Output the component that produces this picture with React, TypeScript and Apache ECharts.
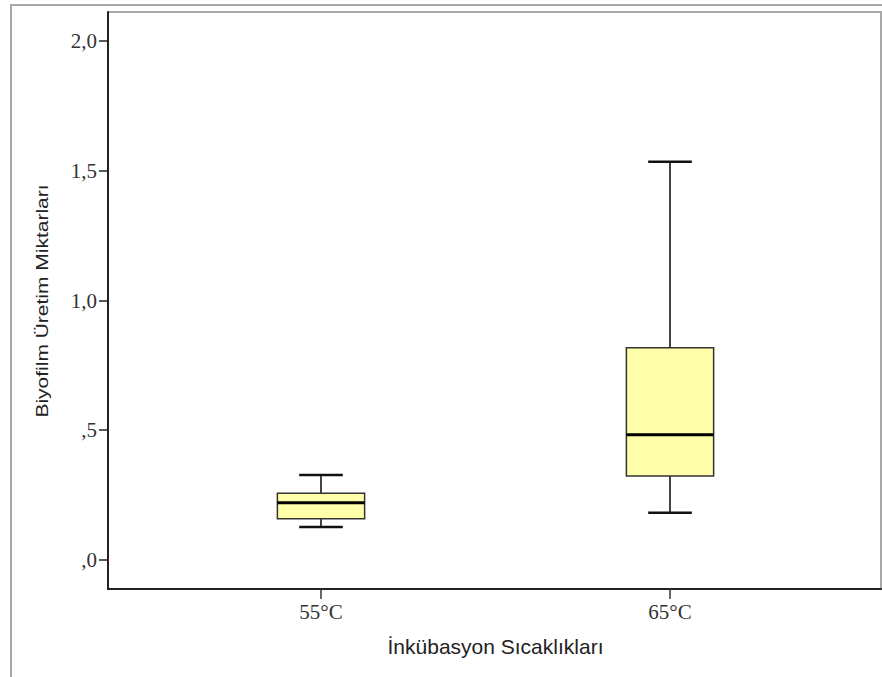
import React, { useEffect, useRef } from "react";
import * as echarts from "echarts";

const categories = ["55°C", "65°C"];
// [min, Q1, median, Q3, max]
const box55 = [0.127, 0.159, 0.221, 0.257, 0.328];
const box65 = [0.182, 0.324, 0.483, 0.818, 1.535];
const yTicks = [0, 0.5, 1.0, 1.5, 2.0];
const yTickLabels = [",0", ",5", "1,0", "1,5", "2,0"];
const yTitle = "Biyofilm Üretim Miktarları";
const xTitle = "İnkübasyon Sıcaklıkları";

const Y_MIN = -0.1118;
const Y_MAX = 2.1118;

export default function App() {
  const ref = useRef<HTMLDivElement>(null);
  useEffect(() => {
    if (!ref.current) return;
    const chart = echarts.init(ref.current, undefined, { renderer: "svg" });
    const boxData = [box55, box65].map((b, i) => [i, ...b]);
    const option: any = {
      animation: false,
      backgroundColor: "#ffffff",
      grid: [
        { left: 108, top: 12, width: 773, height: 577, show: true, borderColor: "#a8a8a8", borderWidth: 2, backgroundColor: "#ffffff" },
        { left: 146.5, top: 12, width: 698, height: 577, show: false },
      ],
      xAxis: [
        {
          gridIndex: 0, type: "value", min: 0, max: 1, z: 10,
          axisLine: { show: true, onZero: false, lineStyle: { color: "#222", width: 2 } },
          axisTick: { show: false }, axisLabel: { show: false }, splitLine: { show: false },
        },
        {
          gridIndex: 1, type: "category", data: categories, z: 10,
          axisLine: { show: false, onZero: false },
          axisTick: { show: true, alignWithLabel: true, length: 10, lineStyle: { color: "#333", width: 1.5 } },
          axisLabel: { margin: 12, fontFamily: "Liberation Serif", fontSize: 21, color: "#333" },
          splitLine: { show: false },
        },
      ],
      yAxis: [
        {
          gridIndex: 0, type: "value", min: Y_MIN, max: Y_MAX, z: 10,
          axisLine: { show: true, onZero: false, lineStyle: { color: "#222", width: 2 } },
          axisTick: { show: true, length: 9, customValues: yTicks, lineStyle: { color: "#222", width: 1.5 } },
          axisLabel: {
            margin: 11, customValues: yTicks, fontFamily: "Liberation Serif", fontSize: 21, color: "#333",
            formatter: (v: number) => {
              const i = yTicks.findIndex((t) => Math.abs(t - v) < 1e-6);
              return i >= 0 ? yTickLabels[i] : "";
            },
          },
          splitLine: { show: false },
        },
        { gridIndex: 1, type: "value", min: Y_MIN, max: Y_MAX, show: false },
      ],
      graphic: [
        { type: "rect", z: -10, shape: { x: 11, y: 5, width: 1000, height: 1000 }, style: { fill: "none", stroke: "#a8a8a8", lineWidth: 2 } },
        {
          type: "text", x: 42, y: 301, rotation: Math.PI / 2, scaleY: 0.8,
          style: { text: yTitle, fontFamily: "Liberation Sans", fontSize: 21, fill: "#222", align: "center", verticalAlign: "middle" },
        },
        {
          type: "text", x: 495.5, y: 646,
          style: { text: xTitle, fontFamily: "Liberation Sans", fontSize: 21, fill: "#222", align: "center", verticalAlign: "middle" },
        },
      ],
      series: [
        {
          type: "custom",
          xAxisIndex: 1,
          yAxisIndex: 1,
          data: boxData,
          encode: { x: 0, y: [1, 2, 3, 4, 5] },
          renderItem: (params: any, api: any) => {
            const idx = api.value(0);
            const pMin = api.coord([idx, api.value(1)]);
            const pQ1 = api.coord([idx, api.value(2)]);
            const pMed = api.coord([idx, api.value(3)]);
            const pQ3 = api.coord([idx, api.value(4)]);
            const pMax = api.coord([idx, api.value(5)]);
            const band = api.size([1, 0])[0];
            const bw = band * 0.25;
            const cw = band * 0.125;
            const cx = pMed[0];
            const whisker = { stroke: "#444", lineWidth: 2 };
            const cap = { stroke: "#111", lineWidth: 2.5 };
            return {
              type: "group",
              children: [
                { type: "line", shape: { x1: cx, y1: pMax[1], x2: cx, y2: pQ3[1] }, style: whisker },
                { type: "line", shape: { x1: cx, y1: pQ1[1], x2: cx, y2: pMin[1] }, style: whisker },
                { type: "line", shape: { x1: cx - cw / 2, y1: pMax[1], x2: cx + cw / 2, y2: pMax[1] }, style: cap },
                { type: "line", shape: { x1: cx - cw / 2, y1: pMin[1], x2: cx + cw / 2, y2: pMin[1] }, style: cap },
                {
                  type: "rect",
                  shape: { x: cx - bw / 2, y: pQ3[1], width: bw, height: pQ1[1] - pQ3[1] },
                  style: { fill: "#ffffaa", stroke: "#333", lineWidth: 1.5 },
                },
                { type: "line", shape: { x1: cx - bw / 2, y1: pMed[1], x2: cx + bw / 2, y2: pMed[1] }, style: { stroke: "#000", lineWidth: 3 } },
              ],
            };
          },
        },
      ],
    };
    chart.setOption(option);
    return () => chart.dispose();
  }, []);
  return <div ref={ref} style={{ position: "fixed", left: 0, top: 0, width: 882, height: 677 }} />;
}
